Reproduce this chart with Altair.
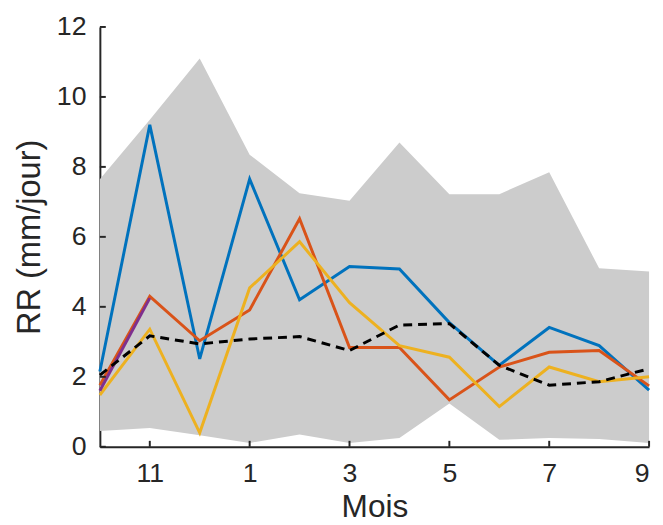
import altair as alt
import pandas as pd

months = ["10", "11", "12", "1", "2", "3", "4", "5", "6", "7", "8", "9"]
idx = list(range(12))

upper = [7.65, 9.35, 11.1, 8.35, 7.25, 7.03, 8.7, 7.22, 7.22, 7.85, 5.1, 5.01]
lower = [0.45, 0.54, 0.33, 0.11, 0.35, 0.11, 0.25, 1.24, 0.2, 0.25, 0.22, 0.11]
blue = [2.15, 9.2, 2.51, 7.65, 4.2, 5.15, 5.08, 3.55, 2.33, 3.41, 2.89, 1.62]
orange = [1.76, 4.3, 3.03, 3.91, 6.52, 2.84, 2.84, 1.34, 2.28, 2.7, 2.75, 1.74]
yellow = [1.48, 3.36, 0.4, 4.54, 5.86, 4.12, 2.89, 2.56, 1.15, 2.28, 1.86, 2.0]
purple = [1.6, 4.25]
dashed = [2.05, 3.17, 2.94, 3.08, 3.15, 2.75, 3.48, 3.52, 2.33, 1.76, 1.86, 2.23]

yticks = [0, 2, 4, 6, 8, 10, 12]
xticks = [1, 3, 5, 7, 9, 11]

W, H = 556, 425
font = "Liberation Sans"
axc = "#262626"

band = pd.DataFrame({"x": idx, "lo": lower, "hi": upper})
series = []
for name, vals in [("blue", blue), ("orange", orange), ("yellow", yellow), ("purple", purple)]:
    for i, v in enumerate(vals):
        series.append({"x": i, "y": v, "s": name})
lines = pd.DataFrame(series)
dash = pd.DataFrame({"x": idx, "y": dashed})

label_expr = "[" + ",".join('"%s"' % m for m in months) + "][datum.value]"

xscale = alt.Scale(domain=[0, 11], nice=False, zero=False)
yscale = alt.Scale(domain=[0, 12], nice=False)

xaxis = alt.Axis(values=xticks, labelExpr=label_expr, title="Mois", ticks=False,
                 grid=False, labelFontSize=27, titleFontSize=32, labelPadding=14,
                 titlePadding=6, labelFont=font, titleFont=font, labelColor=axc,
                 titleColor=axc, domainColor=axc, domainWidth=2, titleFontWeight="normal")
yaxis = alt.Axis(values=yticks, title="RR (mm/jour)", ticks=False, grid=False,
                 labelFontSize=27, titleFontSize=33, labelPadding=14, titlePadding=10,
                 labelFont=font, titleFont=font, labelColor=axc, titleColor=axc,
                 domainColor=axc, domainWidth=2, titleFontWeight="normal")

area = alt.Chart(band).mark_area(color="#cccccc", opacity=1).encode(
    x=alt.X("x:Q", scale=xscale, axis=xaxis),
    y=alt.Y("lo:Q", scale=yscale, axis=yaxis),
    y2="hi:Q",
)

colors = alt.Scale(domain=["blue", "orange", "yellow", "purple"],
                   range=["#0072BD", "#D95319", "#EDB120", "#7E2F8E"])
line = alt.Chart(lines).mark_line(strokeWidth=3).encode(
    x=alt.X("x:Q", scale=xscale),
    y=alt.Y("y:Q", scale=yscale),
    color=alt.Color("s:N", scale=colors, legend=None),
    detail="s:N",
)

dline = alt.Chart(dash).mark_line(color="black", strokeWidth=3, strokeDash=[9, 6]).encode(
    x=alt.X("x:Q", scale=xscale),
    y=alt.Y("y:Q", scale=yscale),
)

ytk = alt.Chart(pd.DataFrame({"v": yticks})).mark_rule(color=axc, strokeWidth=2).encode(
    y=alt.Y("v:Q", scale=yscale),
    x=alt.value(0), x2=alt.value(6),
)
xtk = alt.Chart(pd.DataFrame({"v": xticks})).mark_rule(color=axc, strokeWidth=2).encode(
    x=alt.X("v:Q", scale=xscale),
    y=alt.value(H), y2=alt.value(H - 6),
)

chart = alt.layer(area, line, dline, ytk, xtk).properties(
    width=W, height=H,
    autosize=alt.AutoSizeParams(type="none"),
    padding={"left": 93, "top": 16, "right": 6, "bottom": 76},
).configure_view(stroke=None)

chart.save("out.html", embed_options={"renderer": "svg", "actions": False})
